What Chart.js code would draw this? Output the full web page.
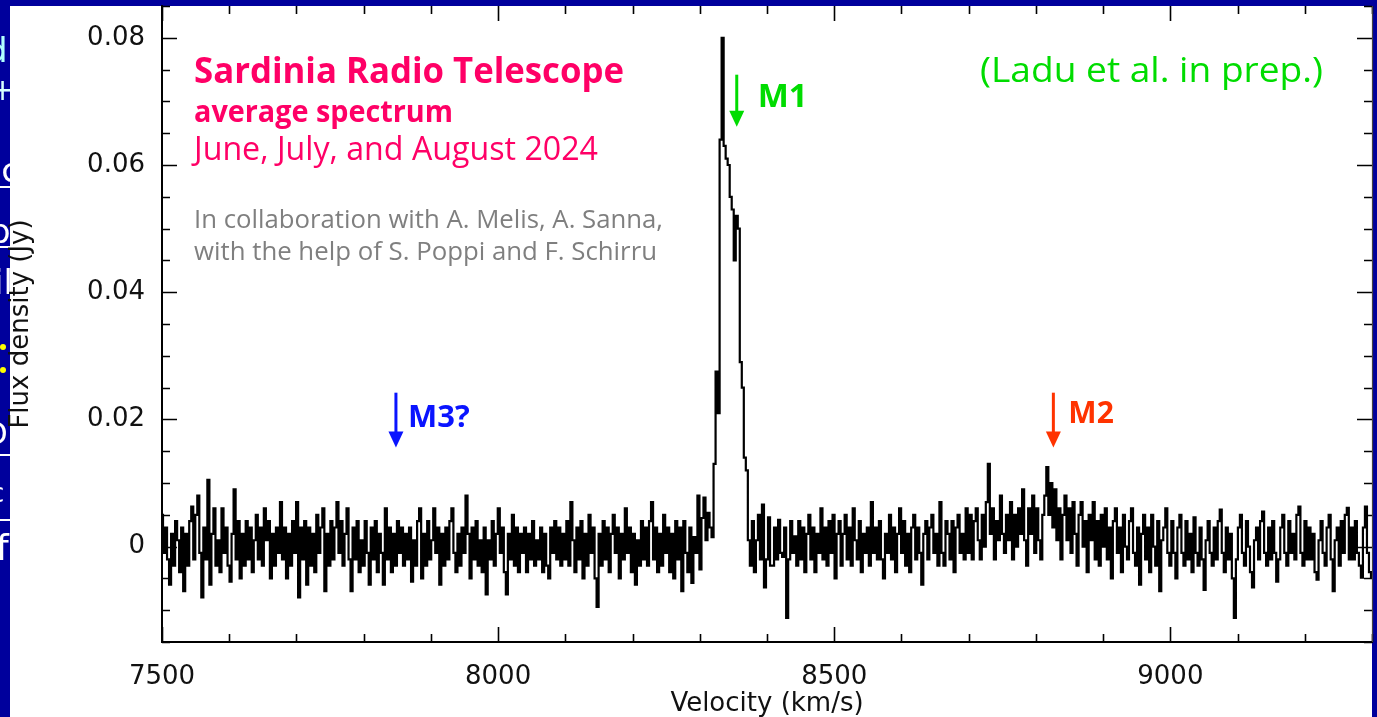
<!DOCTYPE html>
<html>
<head>
<meta charset="utf-8">
<script src="https://cdn.jsdelivr.net/npm/chart.js@4.4.1/dist/chart.umd.min.js"></script>
<style>
  html, body { margin: 0; padding: 0; background: #00009c; overflow: hidden; }
  canvas { display: block; }
</style>
</head>
<body>
<canvas id="spectrum" width="1377" height="717"></canvas>
<script>
// ---- spectrum data -------------------------------------------------------
// channel grid (km/s)
const velocityStart = 7500;
const channelWidth = 3;

// averaged flux density per channel, in mJy (20 channels per row)
const fluxMJy = [
  5, -1, 3, -2, -6, 2, -3, 4, 1, -4, 3, -7, 2, -3, 4, 6.3, -2, 5, 8, -1,
  -8, 3, -2, 10.5, -6, 2, 6, -3, 1, -4, 6, -1, 3, -3, -5.5, 2, 9, -2, 4, -5,
  2, -3, 4, -2, 3, -4, 1, 5, -2, 3, -3, 6, 1, 4, -5, 2, -3, 3, -1, 7,
  -2, 3, -5, 2, -3, 4, -1, 7, -8, 3, -2, 4, -6, 3, -3, 2, -4, 5, -1, 3,
  6, -7, 2, -3, 4, -2, 3, 7, -1, 4, -3, 2, 6, -2, -7, 3, -2, 4, -4, 1,
  -3, 4, -1, -6, 3, -2, 4, -4, 2, -1, -6, 6, -2, 3, -4, 2, -3, 4, -1, 3,
  -3, 2, -2, 3, -5.5, 1, -3, 4, 6, -5, 2, -3, 4, -2, 1, 6, -1, 3, -6, 2,
  -3, 3, -2, 4, 6, -1, -4, 2, -3, 3, -1, 8, 2, -5, 3, -2, 4, -3, 1, -4,
  3, -7.5, 1, -2, 4, -3, 2, 6, -1, 3, -4, -7.5, 2, -2, 5, -3, 3, -4, 2, -1,
  3, -4, 2, -2, 4, -3, 1, -2, 3, -4, 2, -3, -5, 3, -1, 4, -2, 3, -3, 2,
  -2, 4, -3, 7, 1, -4, 3, -2, 4, -5, 2, -3, 5, -1, 3, -5, -9.5, 2, -3, 4,
  -2, 3, -4, 2, 5, -1, 3, -5, 2, -2, 6, -1, 3, -4, 2, -6, 1, -3, 4, -2,
  3, -3, 4, 7, -2, 3, -4, 2, -3, 5, -1, 3, -4, 2, -5, 4, -2, 3, -7, 4,
  -1, -4, 3, -5.7, 1.5, -1, 8, -3.6, 4.5, 7.7, 1, 5.3, 3, 1.5, 13, 27.5, 21, 64, 80, 63,
  61, 60, 55, 53, 45, 52, 50, 29, 25, 14, 12, 1, -3, 4, -4, 1, 5, -2, 6.6, -6.4,
  -2, 4.6, -3, -3, 3, -2, 4.2, -1, -1.6, 3, -11.2, -2, 4, -1, 1.6, -3, 4, -2, 3, -4,
  2, 5, -2, 3, -4, 2, -1, 6, -2, 3, -3, 4, -1, 5, -5, 2, 4, -3, 2, 5,
  -2, 3, -3, 6, 1, -2, 4, -4, 2, -1, 3, -3, 7, -1, 3, -2, 4, -2, -5, 2,
  -1, 5, -2, 3, -4, 2, 6, -1, 4, -3, 2, -4, 3, 5, -2, 3, -1, -6, 2, 4,
  -2, 3, 5, -1, 2, -3, 7, -1, -3, 4, 2, -2, 4, -4, 3, 5, -1, 2, -2, 6,
  -1, 5, -2, 4, 6, 1, -2, 5, 0, 7, 13, 2, 6, -2, 4, 1, 8, 2, -1, 5,
  1, 7, -2, 5, 0, 6, 2, 9, 1, -3, 6, 2, 8, -1, 6, 1, -2, 5, 8, 12.5,
  5, 10, 3, 9, 1, 6, -2, 5, 8, 1, 6, -1, 7, 2, -3, 5, 7, 0, 4, -4,
  5, 1, 7, -2, 4, -3, 5, 0, 6, -2, 3, -5, 4, 6, -1, 3, -4, 5, 0, -2,
  4, 6, -1, -3, 3, -6, 2, 5, -2, 3, -4, 5, 0, -3, 4, -7, 1, 3, 6, -1,
  -3, 4, -1, -5, 3, 5, -1, -3, 4, -2, 2, -4, 4.6, -1, -3, 3, -2, -6.8, 1, 4,
  -1, -3, 3, -2, 4, 5.8, -1, -4, 3, -2, 2, -5, -11.2, -2, 3, 5, -1, -3, 4, 0,
  -4, -6.4, 1, 3, -2, 4, 5.5, -1, -3, 3, -2, 4, -1, -5.5, -2, 3, 5, -1, -3, 4,
  -1, 2, -2, 5, 6.3, -1, -3, 4, -2, 3, -2, 2, -4, -5.2, 1, 4, -1, -3, 3, 5,
  -2, -7, 1, 3, -3, 4, -1, 5, 6.1, -2, 3, -2, 4, -1, -3, -4.9, 3, 6.3, -1, -4,
  -4.9
];

// axis labelling
const xTickLabels = ['7500', '8000', '8500', '9000'];
const yTickLabels = ['0', '0.02', '0.04', '0.06', '0.08'];
const xTitle = 'Velocity (km/s)';
const yTitle = 'Flux density (Jy)';

// maser feature markers
const markerNames = ['M1', 'M3?', 'M2'];
const markerVelocities = [8355, 7848, 8826];
const markerColors = ['#00dc00', '#0a14ff', '#ff3300'];

// ---- layout / style ------------------------------------------------------
const X_MIN = 7500, X_MAX = 9300, X_MINOR = 100, X_MAJOR = 500;
const Y_MIN = -0.015, Y_MAX = 0.085, Y_MINOR = 0.005, Y_MAJOR = 0.02;
const NAVY = '#00009c';
const AXIS_FONT = { family: 'DejaVu Sans', size: 26 };

// arrow extent in flux units plus label offsets (px) for each marker
const markerLayout = [
  { top: 0.0742, tip: 0.0660, dx: 21, dy: 32, size: 33 },
  { top: 0.0242, tip: 0.0156, dx: 12, dy: 34, size: 31 },
  { top: 0.0242, tip: 0.0156, dx: 15, dy: 30, size: 30 }
];

// text blocks drawn over the plot
const textBlocks = [
  { text: 'Sardinia Radio Telescope', x: 194, y: 83, w: 430, size: 35, weight: 700, color: '#ff0066' },
  { text: 'average spectrum', x: 194, y: 122, w: 259, size: 31, weight: 700, color: '#ff0066' },
  { text: 'June, July, and August 2024', x: 194, y: 160, w: 404, size: 32, weight: 400, color: '#ff0066' },
  { text: 'In collaboration with A. Melis, A. Sanna,', x: 194, y: 228, w: 469, size: 25, weight: 400, color: '#7f7f7f' },
  { text: 'with the help of S. Poppi and F. Schirru', x: 194, y: 260, w: 463, size: 25, weight: 400, color: '#7f7f7f' },
  { text: '(Ladu et al. in prep.)', x: 980, y: 82, w: 343, size: 34, weight: 400, color: '#00dc00' }
];

// fragments of neighbouring slide text peeking in at the left edge
const edgeFragments = [
  { t: 'd', y: 62, c: '#b0ffff', x: -14, s: 34 },
  { t: '+', y: 100, c: '#d8ffff', x: -10, s: 30 },
  { t: 'Bc', y: 182, c: '#ffffff', x: -22, s: 34 },
  { t: 'b', y: 243, c: '#ffffff', x: -11, s: 34 },
  { t: 'il', y: 294, c: '#ffffff', x: -6, s: 34 },
  { t: 'O', y: 444, c: '#ffffff', x: -16, s: 30 },
  { t: 'c', y: 502, c: '#ffffff', x: -10, s: 26 },
  { t: 'f', y: 560, c: '#ffffff', x: -4, s: 36 }
];
const edgeRules = [187, 247, 455, 520];
const edgeDots = [347, 370];

// ---- build dataset -------------------------------------------------------
const points = fluxMJy.map((f, i) => ({ x: velocityStart + i * channelWidth, y: f / 1000 }));

const isMultiple = (v, step) => Math.abs(v / step - Math.round(v / step)) < 1e-6;

// page background, white panel and edge fragments
const backdrop = {
  id: 'backdrop',
  beforeDraw(chart) {
    const ctx = chart.ctx;
    ctx.save();
    ctx.fillStyle = NAVY;
    ctx.fillRect(0, 0, chart.width, chart.height);
    ctx.fillStyle = '#ffffff';
    ctx.fillRect(10, 6, 1362, chart.height - 6);
    // left strip
    ctx.beginPath();
    ctx.rect(0, 0, 10, chart.height);
    ctx.clip();
    ctx.textBaseline = 'alphabetic';
    edgeFragments.forEach(f => {
      ctx.font = `${f.s}px "DejaVu Sans"`;
      ctx.fillStyle = f.c;
      ctx.fillText(f.t, f.x, f.y);
    });
    ctx.strokeStyle = '#ffffff';
    ctx.lineWidth = 2;
    edgeRules.forEach(y => { ctx.beginPath(); ctx.moveTo(0, y); ctx.lineTo(10, y); ctx.stroke(); });
    ctx.fillStyle = '#ffff00';
    edgeDots.forEach(y => { ctx.beginPath(); ctx.arc(3, y, 3, 0, Math.PI * 2); ctx.fill(); });
    ctx.restore();
  }
};

// inward-pointing tick marks on all four sides
const frameTicks = {
  id: 'frameTicks',
  afterDraw(chart) {
    const { ctx, chartArea: a } = chart;
    const xs = chart.scales.x, ys = chart.scales.y;
    ctx.save();
    ctx.strokeStyle = '#000';
    ctx.lineWidth = 1.6;
    ctx.beginPath();
    ys.ticks.forEach(t => {
      const py = Math.round(ys.getPixelForValue(t.value)) + 0.5;
      const len = isMultiple(t.value, Y_MAJOR) ? 15 : 8;
      ctx.moveTo(a.left, py); ctx.lineTo(a.left + len, py);
      ctx.moveTo(a.right, py); ctx.lineTo(a.right - len, py);
    });
    xs.ticks.forEach(t => {
      const px = Math.round(xs.getPixelForValue(t.value)) + 0.5;
      const len = isMultiple(t.value, X_MAJOR) ? 15 : 8;
      ctx.moveTo(px, a.bottom); ctx.lineTo(px, a.bottom - len);
      ctx.moveTo(px, a.top); ctx.lineTo(px, a.top + len);
    });
    ctx.stroke();
    // right frame edge
    ctx.strokeStyle = '#444';
    ctx.lineWidth = 1.2;
    ctx.beginPath();
    ctx.moveTo(a.right + 0.5, a.top); ctx.lineTo(a.right + 0.5, a.bottom);
    ctx.stroke();
    ctx.restore();
  }
};

function fitText(ctx, text, x, y, font, color, width) {
  ctx.font = font;
  const w = ctx.measureText(text).width;
  ctx.save();
  ctx.translate(x, y);
  ctx.scale(width / w, 1);
  ctx.fillStyle = color;
  ctx.fillText(text, 0, 0);
  ctx.restore();
}

// captions and feature arrows
const annotations = {
  id: 'annotations',
  afterDraw(chart) {
    const ctx = chart.ctx;
    const xs = chart.scales.x, ys = chart.scales.y;
    ctx.save();
    ctx.textBaseline = 'alphabetic';
    ctx.textAlign = 'left';
    textBlocks.forEach(b => {
      fitText(ctx, b.text, b.x, b.y, `${b.weight} ${b.size}px "Open Sans"`, b.color, b.w);
    });
    markerNames.forEach((name, i) => {
      const lay = markerLayout[i];
      const px = xs.getPixelForValue(markerVelocities[i]);
      const top = ys.getPixelForValue(lay.top);
      const tip = ys.getPixelForValue(lay.tip);
      ctx.strokeStyle = markerColors[i];
      ctx.fillStyle = markerColors[i];
      ctx.lineWidth = 3;
      ctx.beginPath();
      ctx.moveTo(px, top);
      ctx.lineTo(px, tip - 12);
      ctx.stroke();
      ctx.beginPath();
      ctx.moveTo(px - 7.5, tip - 16);
      ctx.lineTo(px + 7.5, tip - 16);
      ctx.lineTo(px, tip);
      ctx.closePath();
      ctx.fill();
      ctx.font = `700 ${lay.size}px "Open Sans"`;
      ctx.fillText(name, px + lay.dx, top + lay.dy);
    });
    ctx.restore();
  }
};

new Chart(document.getElementById('spectrum'), {
  type: 'line',
  data: {
    datasets: [{
      data: points,
      borderColor: '#000',
      borderWidth: 2.2,
      pointRadius: 0,
      stepped: 'middle',
      fill: false
    }]
  },
  options: {
    responsive: false,
    animation: false,
    events: [],
    layout: { padding: { left: 0, top: 6, right: 5, bottom: 0 } },
    plugins: { legend: { display: false }, tooltip: { enabled: false } },
    scales: {
      x: {
        type: 'linear',
        min: X_MIN, max: X_MAX,
        grid: { display: false, drawTicks: false, tickLength: 0 },
        border: { display: true, color: '#000', width: 2 },
        ticks: {
          stepSize: X_MINOR,
          autoSkip: false,
          maxRotation: 0,
          padding: 20,
          color: '#111',
          font: AXIS_FONT,
          callback: v => isMultiple(v - X_MIN, X_MAJOR) ? xTickLabels[Math.round((v - X_MIN) / X_MAJOR)] : ''
        },
        title: { display: true, text: xTitle, color: '#111', font: AXIS_FONT, padding: { top: 0, bottom: -3 } },
        afterFit(scale) {
          scale.height = 75;
          scale.paddingLeft = 0;
          scale.paddingRight = 0;
        }
      },
      y: {
        type: 'linear',
        min: Y_MIN, max: Y_MAX,
        grid: { display: false, drawTicks: false, tickLength: 0 },
        border: { display: true, color: '#000', width: 2 },
        ticks: {
          stepSize: Y_MINOR,
          autoSkip: false,
          padding: 17,
          color: '#111',
          font: AXIS_FONT,
          callback: v => isMultiple(v, Y_MAJOR) ? yTickLabels[Math.round(v / Y_MAJOR)] : ''
        },
        title: { display: true, text: yTitle, color: '#111', font: AXIS_FONT, padding: { top: 6, bottom: 0 } },
        afterFit(scale) {
          scale.width = 162;
          scale.paddingTop = 0;
          scale.paddingBottom = 0;
        }
      }
    }
  },
  plugins: [backdrop, frameTicks, annotations]
});
</script>
</body>
</html>
